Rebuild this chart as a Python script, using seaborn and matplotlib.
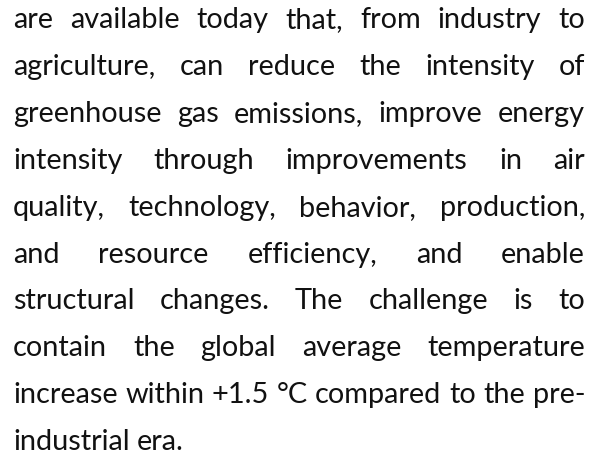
import matplotlib
matplotlib.use("Agg")
import matplotlib.pyplot as plt
import seaborn as sns

# paragraph lines, as broken in the reference (last one is not justified)
LINES = [
    "are available today that, from industry to",
    "agriculture, can reduce the intensity of",
    "greenhouse gas emissions, improve energy",
    "intensity through improvements in air",
    "quality, technology, behavior, production,",
    "and resource efficiency, and enable",
    "structural changes. The challenge is to",
    "contain the global average temperature",
    "increase within +1.5 °C compared to the pre-",
    "industrial era.",
]

W, H = 592, 473
LEFT, RIGHT = 13, 585
FIRST_BASE, LEAD = 28, 46.9

sns.set_theme(style="white")
plt.rcParams["font.family"] = ["Lato", "DejaVu Sans"]

fig = plt.figure(figsize=(W / 100, H / 100), dpi=100)
ax = fig.add_axes([0, 0, 1, 1])
ax.set_xlim(0, W)
ax.set_ylim(H, 0)
ax.axis("off")
renderer = fig.canvas.get_renderer()


def width(s, size):
    t = ax.text(0, 0, s, fontsize=size)
    w = t.get_window_extent(renderer).width
    t.remove()
    return w


# pick the size so the tightly set line 9 fills the column
probe = 20
size = probe * (RIGHT - LEFT) / width(LINES[8], probe)

for i, line in enumerate(LINES):
    y = FIRST_BASE + i * LEAD
    words = line.split(" ")
    ws = [width(w, size) for w in words]
    if i == len(LINES) - 1:
        gap = width("a a", size) - 2 * width("a", size)
    else:
        gap = (RIGHT - LEFT - sum(ws)) / (len(words) - 1)
    x = LEFT
    for w, wd in zip(words, ws):
        ax.text(x, y, w, fontsize=size, va="baseline", ha="left", color="#111111")
        x += wd + gap

fig.savefig("out.png", dpi=100, facecolor="white")
